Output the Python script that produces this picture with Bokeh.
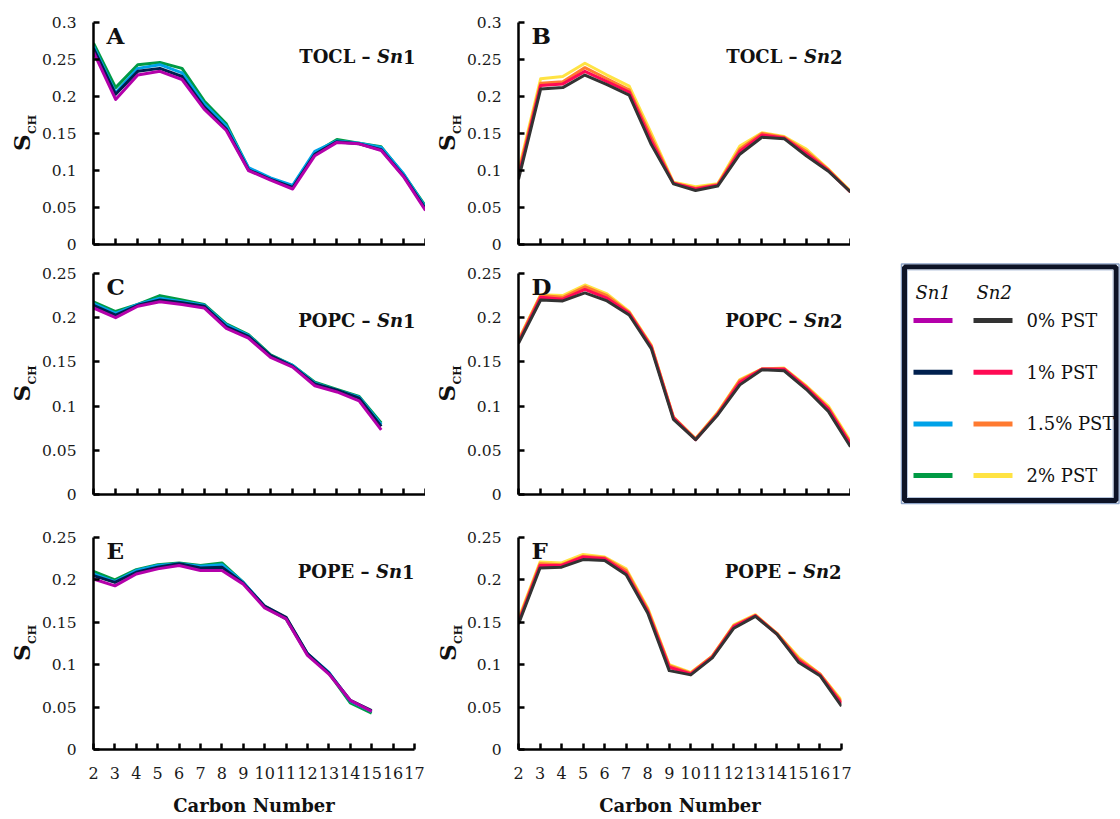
import math
from bokeh.plotting import figure
from bokeh.layouts import column, row
from bokeh.models import Range1d, FixedTicker, Label, Spacer
from bokeh.core.properties import value
from bokeh.embed import file_html
from bokeh.resources import INLINE

SERIF = "DejaVu Serif"
INK = "#111111"

# carbon positions along the acyl chains
carbons_long = list(range(2, 18))
carbons_short = list(range(2, 16))

x_ticks = list(range(2, 18))
x_tick_labels = [str(c) for c in x_ticks]
y_ticks_03 = [0, 0.05, 0.1, 0.15, 0.2, 0.25, 0.3]
y_tick_labels_03 = ["0", "0.05", "0.1", "0.15", "0.2", "0.25", "0.3"]
y_ticks_025 = [0, 0.05, 0.1, 0.15, 0.2, 0.25]
y_tick_labels_025 = ["0", "0.05", "0.1", "0.15", "0.2", "0.25"]

conc_labels = ["0% PST", "1% PST", "1.5% PST", "2% PST"]
sn1_colors = ["#B400AA", "#00204E", "#00A2E8", "#009A44"]
sn2_colors = ["#333333", "#FF0A54", "#FF7A30", "#FFE343"]

# order parameters, one list per PST concentration (0, 1, 1.5, 2 %)
tocl_sn1 = [
    [0.260, 0.196, 0.229, 0.234, 0.223, 0.183, 0.154, 0.100, 0.087, 0.075, 0.120, 0.138, 0.136, 0.127, 0.092, 0.046],
    [0.265, 0.203, 0.234, 0.238, 0.227, 0.186, 0.156, 0.101, 0.088, 0.077, 0.122, 0.139, 0.136, 0.128, 0.093, 0.048],
    [0.268, 0.205, 0.238, 0.243, 0.232, 0.190, 0.160, 0.104, 0.090, 0.080, 0.126, 0.140, 0.137, 0.131, 0.096, 0.050],
    [0.272, 0.212, 0.243, 0.246, 0.238, 0.194, 0.163, 0.103, 0.089, 0.079, 0.124, 0.142, 0.137, 0.132, 0.095, 0.052],
]
tocl_sn2 = [
    [0.088, 0.210, 0.212, 0.229, 0.216, 0.202, 0.135, 0.082, 0.073, 0.079, 0.122, 0.145, 0.143, 0.120, 0.099, 0.071],
    [0.092, 0.215, 0.217, 0.234, 0.220, 0.206, 0.140, 0.083, 0.075, 0.080, 0.126, 0.148, 0.144, 0.123, 0.100, 0.071],
    [0.096, 0.218, 0.220, 0.239, 0.224, 0.209, 0.145, 0.083, 0.076, 0.081, 0.129, 0.150, 0.145, 0.126, 0.101, 0.071],
    [0.100, 0.224, 0.227, 0.245, 0.229, 0.214, 0.150, 0.084, 0.078, 0.082, 0.133, 0.151, 0.146, 0.129, 0.102, 0.072],
]
popc_sn1 = [
    [0.211, 0.200, 0.213, 0.218, 0.215, 0.211, 0.188, 0.177, 0.155, 0.144, 0.123, 0.116, 0.106, 0.073],
    [0.214, 0.203, 0.214, 0.220, 0.217, 0.213, 0.190, 0.179, 0.157, 0.145, 0.125, 0.118, 0.109, 0.077],
    [0.216, 0.205, 0.215, 0.222, 0.218, 0.214, 0.192, 0.180, 0.157, 0.146, 0.126, 0.118, 0.110, 0.079],
    [0.218, 0.207, 0.215, 0.225, 0.220, 0.215, 0.193, 0.181, 0.158, 0.146, 0.127, 0.119, 0.111, 0.081],
]
popc_sn2 = [
    [0.171, 0.220, 0.219, 0.228, 0.219, 0.203, 0.165, 0.085, 0.062, 0.090, 0.124, 0.141, 0.140, 0.119, 0.094, 0.054],
    [0.172, 0.223, 0.221, 0.232, 0.222, 0.205, 0.167, 0.087, 0.062, 0.091, 0.127, 0.142, 0.142, 0.121, 0.097, 0.057],
    [0.174, 0.225, 0.223, 0.235, 0.225, 0.206, 0.168, 0.087, 0.063, 0.092, 0.129, 0.142, 0.142, 0.122, 0.098, 0.058],
    [0.175, 0.226, 0.225, 0.237, 0.227, 0.207, 0.169, 0.088, 0.063, 0.093, 0.130, 0.142, 0.143, 0.123, 0.100, 0.060],
]
pope_sn1 = [
    [0.201, 0.193, 0.207, 0.213, 0.217, 0.211, 0.211, 0.195, 0.167, 0.154, 0.111, 0.089, 0.058, 0.045],
    [0.205, 0.197, 0.209, 0.215, 0.219, 0.214, 0.215, 0.196, 0.169, 0.156, 0.113, 0.090, 0.058, 0.046],
    [0.207, 0.198, 0.211, 0.217, 0.219, 0.216, 0.218, 0.197, 0.169, 0.155, 0.113, 0.091, 0.057, 0.045],
    [0.210, 0.200, 0.212, 0.218, 0.220, 0.217, 0.220, 0.197, 0.168, 0.154, 0.112, 0.090, 0.055, 0.043],
]
pope_sn2 = [
    [0.148, 0.214, 0.215, 0.224, 0.223, 0.206, 0.161, 0.093, 0.088, 0.108, 0.143, 0.157, 0.136, 0.103, 0.087, 0.051],
    [0.150, 0.217, 0.217, 0.227, 0.225, 0.208, 0.163, 0.097, 0.089, 0.109, 0.145, 0.158, 0.136, 0.105, 0.088, 0.054],
    [0.152, 0.219, 0.218, 0.228, 0.226, 0.211, 0.165, 0.099, 0.090, 0.110, 0.146, 0.158, 0.137, 0.107, 0.089, 0.056],
    [0.154, 0.221, 0.220, 0.230, 0.227, 0.213, 0.167, 0.100, 0.091, 0.110, 0.147, 0.159, 0.137, 0.109, 0.089, 0.058],
]

STRIP_W = 37


def blank(fig):
    fig.axis.visible = False
    fig.grid.visible = False
    fig.title.visible = False
    return fig


def ylabel_strip(frame_h, border_t, border_b):
    """Narrow figure holding the rotated, subscripted S_CH axis title."""
    s = figure(frame_width=STRIP_W, frame_height=frame_h,
               x_range=Range1d(0, STRIP_W), y_range=Range1d(0, frame_h),
               min_border_left=0, min_border_right=0,
               min_border_top=border_t, min_border_bottom=border_b,
               output_backend="svg", toolbar_location=None,
               background_fill_color="white", border_fill_color="white",
               outline_line_color=None)
    blank(s)
    mid = frame_h / 2
    s.text(x=[21], y=[mid - 17.5], text=["S"], angle=math.pi / 2,
           text_align="left", text_baseline="middle",
           text_font=value(SERIF), text_font_style="bold",
           text_font_size="23px", text_color=INK)
    s.text(x=[31.5], y=[mid - 0.5], text=["CH"], angle=math.pi / 2,
           text_align="left", text_baseline="middle",
           text_font=value(SERIF), text_font_style="bold",
           text_font_size="11px", text_color=INK)
    return s


def panel(carbons, series, colors, y_ticks, y_labels, frame_w, frame_h,
          border_l, border_r, border_t, border_b, letter, lipid, chain,
          title_dy, title_dx, bottom_row):
    ymax = y_ticks[-1]
    p = figure(frame_width=frame_w, frame_height=frame_h,
               x_range=Range1d(2, 17), y_range=Range1d(0, ymax),
               min_border_left=border_l, min_border_right=border_r,
               min_border_top=border_t, min_border_bottom=border_b,
               output_backend="svg", toolbar_location=None,
               background_fill_color="white", border_fill_color="white",
               outline_line_color=None)
    p.grid.visible = False
    p.title.visible = False

    # draw the highest concentration first so 0 % sits on top
    for vals, col in reversed(list(zip(series, colors))):
        p.line(carbons, vals, line_color=col, line_width=3, line_join="round")

    for ax in (p.xaxis[0], p.yaxis[0]):
        ax.axis_line_width = 2.5
        ax.axis_line_color = "black"
        ax.major_tick_line_width = 2.5
        ax.major_tick_line_color = "black"
        ax.major_tick_in = 6
        ax.major_tick_out = 0
        ax.minor_tick_line_width = 2.5
        ax.minor_tick_line_color = "black"
        ax.minor_tick_in = 6
        ax.minor_tick_out = 0
        ax.major_label_text_font = SERIF
        ax.major_label_text_color = "#1a1a1a"

    xa = p.xaxis[0]
    if bottom_row:
        xa.ticker = FixedTicker(ticks=x_ticks, minor_ticks=[])
        xa.major_label_overrides = dict(zip(x_ticks, x_tick_labels))
        xa.major_label_text_font_size = "16px"
        xa.major_label_standoff = 17
        xa.axis_label = "Carbon Number"
        xa.axis_label_text_font = SERIF
        xa.axis_label_text_font_style = "bold"
        xa.axis_label_text_font_size = "18px"
        xa.axis_label_text_color = INK
        xa.axis_label_standoff = 13
    else:
        # tick marks only, no numbers on the upper rows
        xa.ticker = FixedTicker(ticks=[], minor_ticks=x_ticks)

    ya = p.yaxis[0]
    ya.ticker = FixedTicker(ticks=y_ticks, minor_ticks=[])
    ya.major_label_overrides = dict(zip(y_ticks, y_labels))
    ya.major_label_text_font_size = "15.5px"
    ya.major_label_standoff = 17

    # panel letter
    p.add_layout(Label(x=2, y=ymax, x_offset=13, y_offset=-13, text=letter,
                       text_font=SERIF, text_font_style="bold",
                       text_font_size="23px", text_baseline="alphabetic",
                       text_color=INK))

    # "LIPID – Sn#" title, italic chain prefix
    fs = 18
    w_num = 0.696 * fs
    w_sn = 1.45 * fs
    w_sp = 0.35 * fs
    common = dict(x=17, y=ymax, y_offset=-title_dy, text_font=SERIF,
                  text_font_size=f"{fs}px", text_align="right",
                  text_baseline="alphabetic", text_color=INK)
    p.add_layout(Label(x_offset=title_dx, text=chain, text_font_style="bold", **common))
    p.add_layout(Label(x_offset=title_dx - w_num, text="Sn",
                       text_font_style="bold italic", **common))
    p.add_layout(Label(x_offset=title_dx - w_num - w_sn - w_sp,
                       text=f"{lipid} \u2013", text_font_style="bold", **common))
    return p


BL = 93 - STRIP_W  # left border of each panel after its label strip

pA = panel(carbons_long, tocl_sn1, sn1_colors, y_ticks_03, y_tick_labels_03,
           332, 222, BL, 0, 22, 10, "A", "TOCL", "1", 34, -10, False)
pB = panel(carbons_long, tocl_sn2, sn2_colors, y_ticks_03, y_tick_labels_03,
           332, 222, BL, 0, 22, 10, "B", "TOCL", "2", 34, -8, False)
pC = panel(carbons_short, popc_sn1, sn1_colors, y_ticks_025, y_tick_labels_025,
           332, 221, BL, 0, 19, 11, "C", "POPC", "1", 47, -10, False)
pD = panel(carbons_long, popc_sn2, sn2_colors, y_ticks_025, y_tick_labels_025,
           332, 221, BL, 0, 19, 11, "D", "POPC", "2", 47, -8, False)
pE = panel(carbons_short, pope_sn1, sn1_colors, y_ticks_025, y_tick_labels_025,
           321, 212, BL, 12, 32, 70, "E", "POPE", "1", 34, 0, True)
pF = panel(carbons_long, pope_sn2, sn2_colors, y_ticks_025, y_tick_labels_025,
           323, 212, BL - 1, 12, 32, 70, "F", "POPE", "2", 34, 0, True)

row1 = row(ylabel_strip(222, 22, 10), pA, ylabel_strip(222, 22, 10), pB)
row2 = row(ylabel_strip(221, 19, 11), pC, ylabel_strip(221, 19, 11), pD)
row3 = row(ylabel_strip(212, 32, 70), pE, ylabel_strip(212, 32, 70), pF)
panels = column(row1, row2, row3)

# legend panel (pixel-like coordinates, y pointing down)
LG_W, LG_H = 267, 245
lg = figure(width=LG_W, height=LG_H, x_range=Range1d(0, LG_W), y_range=Range1d(LG_H, 0),
            min_border=0, output_backend="svg", toolbar_location=None,
            background_fill_color="white", border_fill_color="white",
            outline_line_color=None)
blank(lg)
lg.quad(left=[48], right=[265.5], top=[2.5], bottom=[242], fill_color=None,
        line_color="#8da3c7", line_width=1.5)
lg.quad(left=[51], right=[262.5], top=[5.5], bottom=[239], fill_color="white",
        line_color="#0d1326", line_width=5)
lg.quad(left=[54], right=[259.5], top=[8.5], bottom=[236], fill_color=None,
        line_color="#b7c6de", line_width=1)

row_y = [59 + i * 51.7 for i in range(len(conc_labels))]
lg.segment(x0=[60] * 4, y0=row_y, x1=[99] * 4, y1=row_y,
           line_color=sn1_colors, line_width=5)
lg.segment(x0=[120] * 4, y0=row_y, x1=[159] * 4, y1=row_y,
           line_color=sn2_colors, line_width=5)
lg.text(x=[173] * 4, y=row_y, text=conc_labels, text_baseline="middle",
        text_font=value(SERIF), text_font_size="18px", text_color=INK)
lg.text(x=[62, 123], y=[31, 31], text=["Sn1", "Sn2"], text_baseline="alphabetic",
        text_font=value(SERIF), text_font_style="italic", text_font_size="18px",
        text_color=INK)

legend_col = column(Spacer(width=LG_W, height=261), lg)
layout = row(panels, legend_col)

with open("out.html", "w") as f:
    f.write(file_html(layout, INLINE))
